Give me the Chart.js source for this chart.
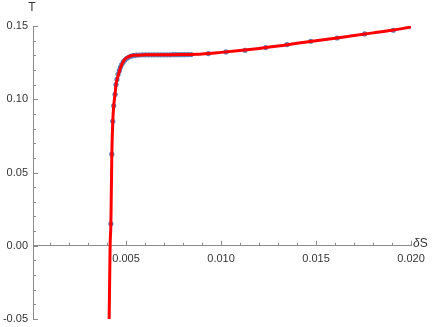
<!DOCTYPE html>
<html>
<head>
<meta charset="utf-8">
<title>T vs δS</title>
<script src="https://cdn.jsdelivr.net/npm/chart.js@4.4.1/dist/chart.umd.min.js"></script>
<style>
  html, body { margin: 0; padding: 0; background: #fff; }
  #wrap { width: 436px; height: 327px; }
</style>
</head>
<body>
<div id="wrap"><canvas id="chart" width="436" height="327"></canvas></div>
<script>
// measured points (blue)
const dataX = [0.0042, 0.00425, 0.0043, 0.00435, 0.00442, 0.00447, 0.00452, 0.00458, 0.00464, 0.0047,
  0.00477, 0.00485, 0.00494, 0.00504, 0.00515, 0.00527, 0.0054, 0.00555, 0.0057, 0.00586,
  0.00602, 0.00618, 0.00634, 0.0065, 0.00666, 0.00682, 0.00698, 0.00714, 0.0073, 0.00746,
  0.00762, 0.00778, 0.00794, 0.0081, 0.00826, 0.00842,
  0.00933, 0.01026, 0.01126, 0.01235, 0.01347, 0.01472, 0.01611, 0.01756, 0.01907];
const dataT = [0.015, 0.0625, 0.085, 0.0955, 0.1034, 0.110, 0.1135, 0.117, 0.1195, 0.1218,
  0.1237, 0.1255, 0.1268, 0.128, 0.1288, 0.1294, 0.1298, 0.1301, 0.1302, 0.1303,
  0.1303, 0.1303, 0.1303, 0.1303, 0.1303, 0.1303, 0.1303, 0.1303, 0.1303, 0.1304,
  0.1304, 0.1304, 0.1304, 0.1304, 0.1305, 0.1305,
  0.1312, 0.1323, 0.1334, 0.1353, 0.1373, 0.1396, 0.1418, 0.1446, 0.1471];

// fitted curve (red)
const fitX = [0.00411, 0.00416, 0.0042, 0.00425, 0.0043, 0.00435, 0.00442, 0.00447, 0.00459, 0.00472,
  0.00489, 0.00512, 0.00538, 0.006, 0.007, 0.008, 0.009, 0.010, 0.011, 0.012,
  0.013, 0.014, 0.015, 0.016, 0.017, 0.018, 0.019, 0.020];
const fitT = [-0.05, 0.0, 0.015, 0.0625, 0.085, 0.0955, 0.1034, 0.110, 0.1164, 0.122,
  0.1266, 0.1289, 0.130, 0.1303, 0.1304, 0.1305, 0.1309, 0.132, 0.1333, 0.1347,
  0.1363, 0.1382, 0.140, 0.1417, 0.1435, 0.1453, 0.1471, 0.1493];

const xTicks = [0.005, 0.010, 0.015, 0.020];
const yTicks = [-0.05, 0.00, 0.05, 0.10, 0.15];

const axisColor = '#8a8a8a';
const labelColor = '#333';
const font = { family: 'Liberation Sans, Arial, sans-serif', size: 11 };

// Mathematica style inward ticks + axis labels
const axisDecor = {
  id: 'axisDecor',
  afterDraw(chart) {
    const ctx = chart.ctx;
    const xs = chart.scales.x, ys = chart.scales.y;
    const y0 = ys.getPixelForValue(0);
    const left = chart.chartArea.left;
    ctx.save();
    ctx.strokeStyle = axisColor;
    ctx.lineWidth = 1;
    ctx.beginPath();
    for (let i = 1; i <= 20; i++) {
      const v = i / 1000;
      const px = Math.round(xs.getPixelForValue(v)) + 0.5;
      const len = i % 5 === 0 ? 5 : 3;
      ctx.moveTo(px, y0);
      ctx.lineTo(px, y0 - len);
    }
    for (let i = -5; i <= 15; i++) {
      const v = i / 100;
      const py = Math.round(ys.getPixelForValue(v)) + 0.5;
      const len = i % 5 === 0 ? 5 : 3;
      ctx.moveTo(left, py);
      ctx.lineTo(left + len, py);
    }
    ctx.stroke();

    ctx.fillStyle = labelColor;
    ctx.font = '12px "Liberation Sans", Arial, sans-serif';
    ctx.textBaseline = 'middle';
    ctx.textAlign = 'center';
    ctx.fillText('T', left - 1, 8);
    ctx.textAlign = 'left';
    ctx.font = 'italic 12px "Liberation Sans", Arial, sans-serif';
    ctx.fillText('δ', xs.right + 2, y0 - 2);
    const w = ctx.measureText('δ').width;
    ctx.font = '12px "Liberation Sans", Arial, sans-serif';
    ctx.fillText('S', xs.right + 2 + w, y0 - 2);
    ctx.restore();
  }
};

new Chart(document.getElementById('chart'), {
  type: 'scatter',
  data: {
    datasets: [
      {
        label: 'fit',
        data: fitX.map((x, i) => ({ x: x, y: fitT[i] })),
        showLine: true,
        borderColor: '#ff0000',
        borderWidth: 3,
        pointRadius: 0,
        cubicInterpolationMode: 'monotone',
        fill: false
      },
      {
        label: 'data',
        data: dataX.map((x, i) => ({ x: x, y: dataT[i] })),
        showLine: false,
        backgroundColor: '#5e81b5',
        borderColor: '#5e81b5',
        borderWidth: 0,
        pointRadius: 2.6
      }
    ]
  },
  options: {
    responsive: false,
    animation: false,
    layout: { padding: { left: 0, right: 25, top: 26, bottom: 8 } },
    plugins: { legend: { display: false }, tooltip: { enabled: false } },
    scales: {
      x: {
        type: 'linear',
        position: { y: 0 },
        min: 0.0001,
        max: 0.020,
        afterFit: scale => {
          scale.height = 0;
          scale.paddingLeft = 0;
          scale.paddingRight = 0;
        },
        grid: { display: false, drawTicks: false },
        border: { display: true, color: axisColor, width: 1 },
        afterBuildTicks: scale => { scale.ticks = xTicks.map(v => ({ value: v })); },
        ticks: {
          padding: 7,
          color: labelColor,
          font: font,
          maxRotation: 0,
          callback: v => v.toFixed(3)
        }
      },
      y: {
        type: 'linear',
        position: 'left',
        min: -0.05,
        max: 0.15,
        afterFit: scale => {
          scale.width = 33;
          scale.paddingTop = 0;
          scale.paddingBottom = 0;
        },
        afterBuildTicks: scale => { scale.ticks = yTicks.map(v => ({ value: v })); },
        grid: { display: false, drawTicks: false },
        border: { display: true, color: axisColor, width: 1 },
        ticks: {
          padding: 5,
          color: labelColor,
          font: font,
          callback: v => v.toFixed(2)
        }
      }
    }
  },
  plugins: [axisDecor]
});
</script>
</body>
</html>
